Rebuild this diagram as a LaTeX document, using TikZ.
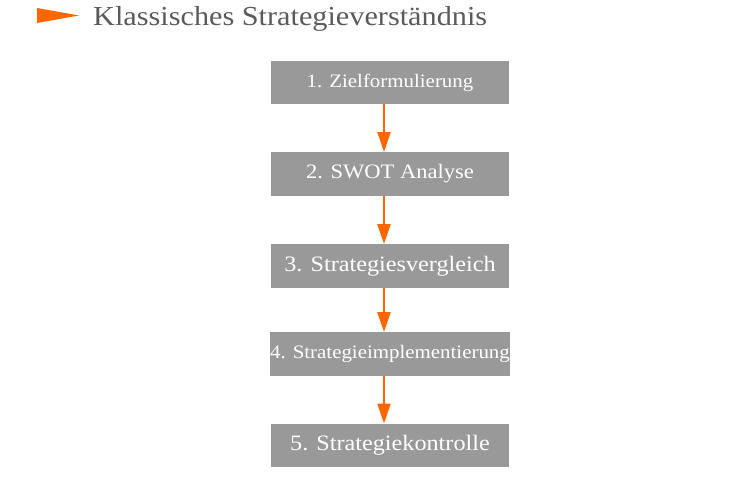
\documentclass[tikz,border=0pt]{standalone}
\usepackage{fontspec}
\setmainfont{Liberation Serif}[FakeStretch=1.1]
\usetikzlibrary{arrows.meta}
\definecolor{boxgray}{RGB}{153,153,153}
\definecolor{flowor}{RGB}{255,102,0}
\definecolor{titlegray}{RGB}{90,90,90}
\begin{document}
\begin{tikzpicture}[x=1pt,y=1pt,
  box/.style={fill=boxgray,text=white,minimum width=238pt,minimum height=43.5pt,inner sep=0pt},
  flow/.style={draw=flowor,line width=2pt,-{Triangle[width=13pt,length=20pt]}}]
\useasboundingbox (0,0) rectangle (750,-483);
\fill[flowor] (37,-8) -- (37,-23) -- (79,-15.5) -- cycle;
\node[anchor=base west,inner sep=0pt,text=titlegray] (title) at (93,-25) {\fontsize{27.5}{30}\selectfont Klassisches Strategieverständnis};
\node[box] (b1) at (390,-82.5) {\fontsize{19}{22}\selectfont 1. Zielformulierung};
\node[box] (b2) at (390,-174) {\fontsize{20.5}{24}\selectfont 2. SWOT Analyse};
\node[box] (b3) at (390,-266) {\fontsize{22}{26}\selectfont 3. Strategiesvergleich};
\node[box] (b4) at (390,-354) {\fontsize{19}{22}\selectfont 4. Strategieimplementierung};
\node[box] (b5) at (390,-445.5) {\fontsize{22}{26}\selectfont 5. Strategiekontrolle};
\draw[flow] ([xshift=-6pt]b1.south) -- ([xshift=-6pt]b2.north);
\draw[flow] ([xshift=-6pt]b2.south) -- ([xshift=-6pt]b3.north);
\draw[flow] ([xshift=-6pt]b3.south) -- ([xshift=-6pt]b4.north);
\draw[flow] ([xshift=-6pt]b4.south) -- ([xshift=-6pt]b5.north);
\end{tikzpicture}
\end{document}
